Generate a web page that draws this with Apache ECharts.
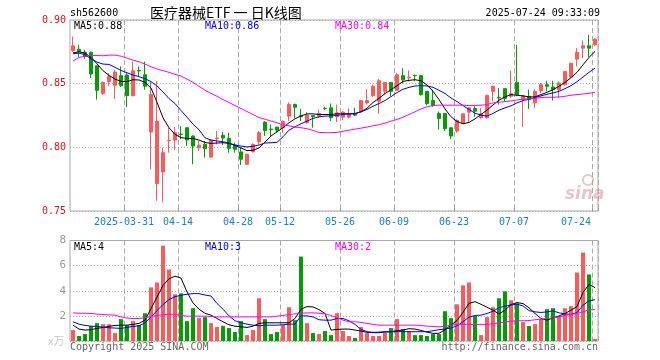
<!DOCTYPE html>
<html><head><meta charset="utf-8">
<script src="https://cdn.jsdelivr.net/npm/echarts@6/dist/echarts.min.js"></script>
<style>html,body{margin:0;padding:0;background:#fff}#c{width:660px;height:360px}</style>
</head><body><div id="c"></div>
<script>
const dates = ["2025-03-18","2025-03-19","2025-03-20","2025-03-21","2025-03-24","2025-03-25","2025-03-26","2025-03-27","2025-03-28","2025-03-31",
"2025-04-01","2025-04-02","2025-04-03","2025-04-07","2025-04-08","2025-04-09","2025-04-10","2025-04-11","2025-04-14","2025-04-15","2025-04-16","2025-04-17","2025-04-18","2025-04-21","2025-04-22","2025-04-23","2025-04-24","2025-04-25","2025-04-28","2025-04-29","2025-04-30",
"2025-05-06","2025-05-07","2025-05-08","2025-05-09","2025-05-12","2025-05-13","2025-05-14","2025-05-15","2025-05-16","2025-05-19","2025-05-20","2025-05-21","2025-05-22","2025-05-23","2025-05-26","2025-05-27","2025-05-28","2025-05-29","2025-05-30",
"2025-06-03","2025-06-04","2025-06-05","2025-06-06","2025-06-09","2025-06-10","2025-06-11","2025-06-12","2025-06-13","2025-06-16","2025-06-17","2025-06-18","2025-06-19","2025-06-20","2025-06-23","2025-06-24","2025-06-25","2025-06-26","2025-06-27","2025-06-30",
"2025-07-01","2025-07-02","2025-07-03","2025-07-04","2025-07-07","2025-07-08","2025-07-09","2025-07-10","2025-07-11","2025-07-14","2025-07-15","2025-07-16","2025-07-17","2025-07-18","2025-07-21","2025-07-22","2025-07-23","2025-07-24"];

const labelDates = ["2025-03-31","2025-04-14","2025-04-28","2025-05-12","2025-05-26","2025-06-09","2025-06-23","2025-07-07","2025-07-24"];

const openP = [0.876,0.877,0.8747,0.8747,0.864,0.8422,0.8516,0.8487,0.8563,0.8568,
0.8406,0.8604,0.857,0.812,0.7716,0.7807,0.8052,0.8057,0.8104,0.8154,
0.8089,0.7997,0.8023,0.7924,0.8068,0.8094,0.807,0.8018,0.7964,0.7867,
0.7966,0.8044,0.8198,0.8143,0.8159,0.8154,0.8245,0.8336,0.825,0.8193,
0.825,0.8245,0.8307,0.831,0.824,0.8237,0.8237,0.8263,0.8279,0.8349,
0.8406,0.8362,0.844,0.851,0.8448,0.8563,0.8547,0.8565,0.8563,0.844,
0.8367,0.8266,0.8266,0.8154,0.8128,0.8193,0.8276,0.8305,0.8232,0.8232,
0.844,0.8391,0.8461,0.8401,0.851,0.8375,0.8401,0.8349,0.8445,0.8492,
0.8474,0.8453,0.8492,0.8552,0.8693,0.8779,0.8797,0.8805];

const closeP = [0.8797,0.875,0.8714,0.8576,0.8448,0.851,0.8557,0.8591,0.8484,0.8406,
0.8602,0.860,0.848,0.8414,0.8206,0.7958,0.8055,0.8115,0.810,0.8057,
0.801,0.8016,0.799,0.8057,0.8073,0.8073,0.7992,0.7984,0.7906,0.7945,
0.8023,0.8115,0.8133,0.814,0.8135,0.8203,0.8336,0.8315,0.824,0.8253,
0.824,0.8266,0.8305,0.8232,0.8271,0.8276,0.8266,0.8253,0.8367,0.8367,
0.8479,0.8523,0.851,0.844,0.857,0.8531,0.855,0.8563,0.8414,0.8344,
0.8328,0.8227,0.8146,0.8089,0.8211,0.8263,0.831,0.8284,0.8263,0.8406,
0.8479,0.8388,0.8383,0.8422,0.8414,0.8406,0.8375,0.844,0.8492,0.8479,
0.8453,0.8505,0.8596,0.8661,0.8745,0.8797,0.8779,0.8849];

const lowP = [0.875,0.871,0.8695,0.8544,0.8375,0.8414,0.848,0.838,0.8474,0.8315,
0.840,0.8557,0.8453,0.7828,0.758,0.7568,0.7958,0.798,0.8063,0.801,
0.7867,0.7971,0.7919,0.792,0.8023,0.8016,0.7958,0.7958,0.7862,0.7862,
0.7958,0.8023,0.8089,0.8089,0.8115,0.8115,0.8206,0.8232,0.8206,0.8188,
0.8154,0.8232,0.8292,0.8206,0.8198,0.8214,0.8227,0.8245,0.8271,0.8336,
0.8396,0.8263,0.8414,0.840,0.844,0.85,0.8518,0.8518,0.8406,0.8328,
0.8318,0.814,0.8128,0.8063,0.8115,0.8188,0.8193,0.824,0.8224,0.8224,
0.8362,0.8336,0.8362,0.8388,0.8401,0.8159,0.8302,0.831,0.8427,0.844,
0.8367,0.8388,0.8484,0.8544,0.8635,0.870,0.8708,0.8797];

const highP = [0.887,0.8805,0.8766,0.875,0.864,0.8518,0.8583,0.861,0.8635,0.8583,
0.8674,0.8635,0.8674,0.8518,0.8518,0.7997,0.8154,0.8161,0.8167,0.8154,
0.8094,0.805,0.805,0.8063,0.8128,0.812,0.8115,0.8036,0.7997,0.795,
0.8031,0.8128,0.8206,0.818,0.8159,0.8211,0.8354,0.8344,0.8302,0.8276,
0.825,0.8297,0.8318,0.8344,0.8336,0.8284,0.8305,0.831,0.8367,0.8458,
0.8492,0.8536,0.851,0.851,0.8583,0.8622,0.8604,0.857,0.857,0.844,
0.8453,0.8281,0.8266,0.8154,0.8219,0.8266,0.8315,0.8323,0.8307,0.8414,
0.8484,0.8466,0.8461,0.8604,0.8805,0.8406,0.8453,0.8453,0.8505,0.8523,
0.8523,0.8518,0.8596,0.8661,0.8779,0.8839,0.8883,0.8857];

const volume = [0.87,0.40,0.55,1.19,1.42,1.34,1.34,0.63,1.74,1.26,
1.58,1.26,2.21,4.27,4.66,7.59,5.69,3.72,3.79,1.58,
2.61,1.82,1.90,1.42,1.11,1.19,1.03,0.71,1.58,0.47,
0.87,3.40,1.74,0.55,0.71,1.26,2.69,1.66,6.72,1.42,
0.63,0.55,0.79,0.47,2.21,0.79,0.40,0.24,1.11,0.63,
0.40,0.40,0.63,1.03,1.74,0.95,0.79,0.47,0.47,0.40,
0.55,0.55,2.37,1.82,2.92,4.43,4.66,1.98,0.47,1.90,
2.69,3.40,3.95,3.24,3.00,1.50,1.19,1.34,1.74,2.53,
2.61,1.98,2.61,2.77,5.45,7.04,5.30,0.16];

const ma5 = [0.8742,0.875,0.874,0.8706,0.8656,0.8602,0.8565,0.8536,0.8518,0.8516,
0.8531,0.8529,0.851,0.8466,0.8354,0.8232,0.8154,0.8102,0.8076,0.807,
0.807,0.8057,0.8038,0.8031,0.8034,0.8036,0.8031,0.8016,0.7995,0.7974,
0.7977,0.7995,0.8042,0.8089,0.8122,0.8154,0.8193,0.8224,0.8247,0.8263,
0.8263,0.8258,0.8258,0.8258,0.8263,0.8263,0.8263,0.8266,0.8279,0.8307,
0.8352,0.8385,0.8422,0.8453,0.8484,0.8518,0.8526,0.8531,0.8523,0.849,
0.844,0.8375,0.8302,0.824,0.8203,0.8185,0.8195,0.8224,0.8258,0.8292,
0.8333,0.837,0.8396,0.8414,0.8409,0.8404,0.8396,0.8396,0.8414,0.8432,
0.8453,0.8479,0.851,0.8547,0.8589,0.8648,0.8706,0.8753];

const ma10 = [0.8734,0.874,0.8727,0.8695,0.8669,0.8654,0.8651,0.8628,0.8604,0.8586,
0.8568,0.8555,0.8539,0.8516,0.8482,0.8435,0.8383,0.8344,0.8289,0.8237,
0.8182,0.8138,0.8075,0.8057,0.805,0.8044,0.8034,0.8018,0.801,0.8003,
0.8008,0.8018,0.8034,0.8036,0.8039,0.8083,0.8135,0.8161,0.8185,0.8206,
0.8227,0.824,0.8245,0.8247,0.825,0.8258,0.8263,0.8263,0.8279,0.8297,
0.8323,0.8344,0.8367,0.8398,0.843,0.8456,0.8471,0.8482,0.8484,0.8482,
0.8471,0.8448,0.8422,0.8388,0.8359,0.8328,0.8297,0.8268,0.8253,0.8245,
0.8266,0.8292,0.831,0.8326,0.8349,0.8367,0.8378,0.8391,0.8404,0.8417,
0.8427,0.844,0.8461,0.8484,0.8516,0.8552,0.8589,0.8622];

const ma30 = [0.8677,0.8706,0.8716,0.8721,0.8721,0.8719,0.8724,0.8724,0.8716,0.87,
0.8685,0.8672,0.8654,0.8633,0.8615,0.8602,0.8589,0.8573,0.856,0.8536,
0.851,0.8479,0.8448,0.8424,0.8401,0.8375,0.8352,0.8328,0.8305,0.8281,
0.8258,0.8234,0.8221,0.8206,0.8193,0.8177,0.8169,0.8159,0.8154,0.8146,
0.8133,0.8117,0.8115,0.8115,0.8117,0.8126,0.8135,0.8143,0.8151,0.8159,
0.8169,0.8177,0.819,0.8206,0.8219,0.8237,0.8258,0.8279,0.8302,0.8318,
0.8328,0.8331,0.8331,0.8331,0.8331,0.8331,0.8328,0.8328,0.8331,0.8336,
0.8349,0.8354,0.8359,0.8365,0.8372,0.8378,0.8383,0.8385,0.8391,0.8393,
0.8393,0.8396,0.8401,0.8409,0.8414,0.8419,0.8424,0.8432];

const volMa5 = [1.26,0.95,0.87,0.9,1.0,1.08,1.16,1.24,1.26,1.26,
1.32,1.4,1.66,2.58,3.5,4.43,4.95,5.16,5.01,3.9,
3.03,2.53,2.2,2.06,1.79,1.53,1.29,1.18,1.13,1.08,
1.18,1.4,1.45,1.45,1.45,1.45,1.45,1.79,2.53,2.74,
2.71,2.5,2.19,0.87,0.92,0.95,0.95,0.87,0.79,0.69,
0.66,0.66,0.71,0.74,0.82,0.87,0.98,0.95,0.84,0.71,
0.61,0.61,0.9,1.26,1.63,2.29,3.0,3.13,2.92,2.69,
2.45,2.16,2.45,2.9,3.06,2.98,2.64,2.19,1.79,1.66,
1.84,2.0,2.19,2.45,2.74,3.87,4.5,4.25];

const volMa10 = [1.53,1.34,1.24,1.18,1.16,1.1,1.05,1.03,1.0,1.08,
1.16,1.21,1.45,1.9,2.42,2.9,3.3,3.53,3.64,3.72,
3.77,3.77,3.66,3.58,2.98,2.53,2.0,1.61,1.45,1.34,
1.26,1.21,1.26,1.26,1.26,1.29,1.34,1.34,2.0,2.0,
1.92,1.69,1.66,1.66,1.79,1.79,1.61,1.32,0.92,0.74,
0.69,0.71,0.74,0.74,0.74,0.74,0.74,0.74,0.74,0.74,
0.82,0.9,0.95,1.03,1.21,1.53,1.9,2.03,2.06,2.19,
2.37,2.66,2.77,2.87,2.93,2.79,2.42,2.32,2.27,2.32,
2.4,2.24,2.16,2.11,2.27,2.85,3.19,3.29];

const volMa30 = [2.24,2.21,2.21,2.19,2.14,2.11,2.08,2.06,1.92,1.82,
1.79,1.79,1.84,1.95,2.03,2.08,2.14,2.11,2.03,1.98,
1.98,1.98,1.98,1.95,1.92,1.92,1.92,1.92,1.92,1.92,
1.92,1.92,1.92,1.92,1.98,2.03,2.11,2.16,2.21,2.24,
2.24,2.21,2.16,2.03,1.84,1.66,1.53,1.53,1.48,1.4,
1.32,1.26,1.26,1.26,1.26,1.26,1.26,1.26,1.24,1.18,
1.16,1.13,1.18,1.26,1.32,1.32,1.32,1.32,1.32,1.32,
1.37,1.45,1.5,1.58,1.61,1.61,1.63,1.69,1.74,1.79,
1.84,1.92,2.03,2.11,2.19,2.32,2.48,2.5];

const UP = '#f95a5a', DOWN = '#079c07';
const MONO = '"DejaVu Sans Mono", "Liberation Mono", monospace';
const labelIdx = labelDates.map(d => dates.indexOf(d));
const isLabel = (i) => labelIdx.indexOf(i) >= 0;
const last = (a) => a[a.length - 1];

const candleData = dates.map((d, i) => [openP[i], closeP[i], lowP[i], highP[i]]);
const volData = dates.map((d, i) => ({
  value: volume[i],
  itemStyle: { color: closeP[i] >= openP[i] ? UP : DOWN }
}));

const gridL = 70, gridW = 528;
const chart = echarts.init(document.getElementById('c'), null, { renderer: 'canvas' });

function lineSeries(data, color, xi, yi) {
  return { type: 'line', data: data, xAxisIndex: xi, yAxisIndex: yi, symbol: 'none', showSymbol: false,
    lineStyle: { color: color, width: 1 }, itemStyle: { color: color }, z: 5, silent: true };
}
const dashed = { show: true, interval: (i) => isLabel(i), lineStyle: { color: '#aaa', type: [5, 3], width: 1 } };

function txt(x, y, text, fill, font, align) {
  return { type: 'text', x: x, y: y, silent: true, z: 100,
    style: { text: text, fill: fill, font: font, textAlign: align || 'left', textVerticalAlign: 'middle' } };
}

const option = {
  animation: false,
  backgroundColor: '#fff',
  grid: [
    { left: gridL, top: 20, width: gridW, height: 191, show: true, borderColor: '#aaa', borderWidth: 1, backgroundColor: 'transparent' },
    { left: gridL, top: 240.5, width: gridW, height: 100.5, show: true, borderColor: '#aaa', borderWidth: 1, backgroundColor: 'transparent' }
  ],
  xAxis: [
    { type: 'category', gridIndex: 0, data: dates, boundaryGap: true,
      axisLine: { show: false },
      axisTick: { show: true, inside: true, length: 3, interval: (i) => isLabel(i), lineStyle: { color: '#999' } },
      axisLabel: { show: true, interval: (i) => isLabel(i), margin: 6, color: '#1583d2', fontFamily: MONO, fontSize: 10,
        formatter: function (v) {
          const i = dates.indexOf(v);
          const t = (i === labelIdx[0]) ? v : v.slice(5);
          return (i === dates.length - 1) ? '{e|' + t + '}' : '{n|' + t + '}';
        },
        rich: { n: { padding: [0, 6, 0, 0], color: '#1583d2', fontFamily: MONO, fontSize: 10 },
                e: { padding: [0, 38, 0, 0], color: '#1583d2', fontFamily: MONO, fontSize: 10 } } },
      splitLine: dashed },
    { type: 'category', gridIndex: 1, data: dates, boundaryGap: true,
      axisLine: { show: false }, axisTick: { show: false }, axisLabel: { show: false },
      splitLine: dashed }
  ],
  yAxis: [
    { type: 'value', gridIndex: 0, min: 0.75, max: 0.90, interval: 0.05, scale: true,
      axisLine: { show: false }, axisTick: { show: false },
      axisLabel: { color: '#e81010', fontFamily: MONO, fontSize: 10, margin: 4, formatter: (v) => v.toFixed(2) },
      splitLine: { show: true, lineStyle: { color: '#aaa', type: [1, 2], width: 1 } } },
    { type: 'value', gridIndex: 1, min: 0, max: 8, interval: 2,
      axisLine: { show: false }, axisTick: { show: false },
      axisLabel: { color: '#999', fontFamily: MONO, fontSize: 11, margin: 4, formatter: (v) => v === 0 ? '' : String(v) },
      splitLine: { show: true, lineStyle: { color: '#aaa', type: [1, 2], width: 1 } } }
  ],
  series: [
    { type: 'candlestick', xAxisIndex: 0, yAxisIndex: 0, data: candleData, barWidth: 4,
      itemStyle: { color: UP, color0: DOWN, borderColor: UP, borderColor0: DOWN, borderWidth: 1 }, z: 3 },
    lineSeries(ma5, '#000000', 0, 0),
    lineSeries(ma10, '#0000ff', 0, 0),
    lineSeries(ma30, '#ff00ff', 0, 0),
    { type: 'bar', xAxisIndex: 1, yAxisIndex: 1, data: volData, barWidth: 4, z: 3 },
    lineSeries(volMa5, '#000000', 1, 1),
    lineSeries(volMa10, '#0000ff', 1, 1),
    lineSeries(volMa30, '#ff00ff', 1, 1)
  ],
  graphic: [
    txt(70, 13, 'sh562600', '#000', '10px ' + MONO),
    txt(150, 13, '医疗器械ETF 一 日K线图', '#000', '14px "Noto Sans CJK SC"'),
    txt(600, 13, '2025-07-24 09:33:09', '#000', '10px ' + MONO, 'right'),
    txt(74, 26, 'MA5:' + last(ma5).toFixed(2), '#000', '10px ' + MONO),
    txt(205, 26, 'MA10:' + last(ma10).toFixed(2), '#0000ff', '10px ' + MONO),
    txt(335, 26, 'MA30:' + last(ma30).toFixed(2), '#ff00ff', '10px ' + MONO),
    txt(74, 247, 'MA5:' + Math.floor(last(volMa5)), '#000', '10px ' + MONO),
    txt(205, 247, 'MA10:' + Math.floor(last(volMa10)), '#0000ff', '10px ' + MONO),
    txt(335, 247, 'MA30:' + Math.floor(last(volMa30)), '#ff00ff', '10px ' + MONO),
    txt(48, 341, 'x万', '#c8c8c8', '11px "Noto Sans CJK SC"'),
    txt(70, 347, 'Copyright 2025 SINA.COM', '#666', '10px ' + MONO),
    txt(598, 347, 'http://finance.sina.com.cn', '#666', '10px ' + MONO, 'right'),
    txt(565, 195, 'sina', 'rgba(215,150,150,0.55)', 'italic bold 17px "DejaVu Sans"'),
    { type: 'circle', shape: { cx: 588, cy: 180, r: 5 }, silent: true, z: 100,
      style: { fill: 'none', stroke: 'rgba(220,140,140,0.5)', lineWidth: 2 } }
  ]
};
chart.setOption(option);
</script>
</body></html>
